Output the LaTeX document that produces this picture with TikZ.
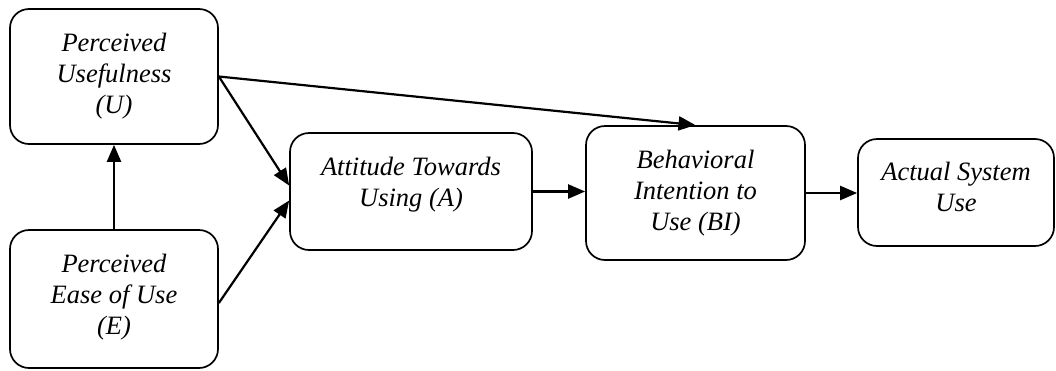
\documentclass[tikz,border=0pt]{standalone}
\usepackage{fontspec}
\setmainfont{LiberationSerif}[Extension=.ttf, UprightFont=*-Regular,
  ItalicFont=*-Italic, BoldFont=*-Bold, BoldItalicFont=*-BoldItalic]
\usetikzlibrary{arrows.meta}

\tikzset{
  tambox/.style={draw, line width=1.7pt, rounded corners=19pt, align=center,
    font=\fontsize{26.5}{31}\selectfont\itshape, inner sep=0pt},
  tamarrow/.style={line width=2.2pt, -{Triangle[length=17pt,width=14pt]}}
}

\begin{document}
\begin{tikzpicture}[x=1pt,y=-1pt]
\useasboundingbox (0,0) rectangle (1056,370);

\node[tambox, minimum width=208pt, minimum height=135pt] (U) at (114,76.5)
   {Perceived\\Usefulness\\(U)};
\node[tambox, minimum width=208pt, minimum height=138pt] (E) at (114,299)
   {Perceived\\Ease of Use\\(E)\\[-22pt]\mbox{}};

 \node[tambox, minimum width=242pt, minimum height=117pt] (A) at (411,191.5)
   {Attitude Towards\\Using (A)\\[-12pt]\mbox{}};
\node[tambox, minimum width=219pt, minimum height=134pt] (BI) at (695.5,193)
   {Behavioral\\Intention to\\Use (BI)};
\node[tambox, minimum width=196pt, minimum height=107pt] (ASU) at (956,192.5)
   {Actual System\\Use\\[-20pt]\mbox{}};

\draw[tamarrow] (E.north) -- (U.south);
\draw[tamarrow] (U.east) -- ([yshift=6pt]A.west);
\draw[tamarrow] ([yshift=-4pt]E.east) -- ([yshift=-9pt]A.west);
\draw[tamarrow] (U.east) -- (BI.north);
\draw[tamarrow] (A.east) -- (A.east -| BI.west);
\draw[tamarrow] (BI.east) -- (BI.east -| ASU.west);
\end{tikzpicture}
\end{document}
